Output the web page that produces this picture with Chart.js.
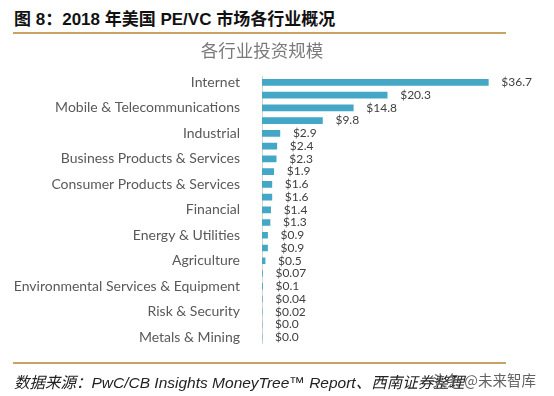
<!DOCTYPE html>
<html><head><meta charset="utf-8">
<script src="https://cdn.jsdelivr.net/npm/chart.js@4/dist/chart.umd.min.js"></script>
<style>
html,body{margin:0;padding:0;background:#fff;width:554px;height:396px;overflow:hidden;font-family:"Noto Sans CJK SC",sans-serif;}
#title{position:absolute;left:14px;top:5px;font-size:17px;font-weight:bold;color:#111;font-family:"Liberation Sans","Noto Sans CJK SC",sans-serif;}
.rule{position:absolute;left:13px;width:493px;height:2px;background:#c9a266;}
#src{position:absolute;left:14px;top:370px;font-size:15.5px;font-style:italic;color:#222;font-family:"Liberation Sans","Noto Sans CJK SC",sans-serif;white-space:nowrap;}
#wm{position:absolute;left:432px;top:369px;font-size:14.5px;color:rgba(70,70,70,0.85);font-family:"Noto Sans CJK SC",sans-serif;white-space:nowrap;}
#wrap{position:absolute;left:0;top:36px;width:545px;height:330px;}
</style></head><body>
<div id="title">图 8：2018 年美国 PE/VC 市场各行业概况</div>
<div class="rule" style="top:32px"></div>
<div id="wrap"><canvas id="c"></canvas></div>
<div class="rule" style="top:362px"></div>
<div id="src">数据来源：PwC/CB Insights MoneyTree™ Report、西南证券整理</div>
<div id="wm">头条 @未来智库</div>
<script>
const categories = ["Internet","","Mobile & Telecommunications","","Industrial","","Business Products & Services","","Consumer Products & Services","","Financial","","Energy & Utilities","","Agriculture","","Environmental Services & Equipment","","Risk & Security","","Metals & Mining"];
const values = [36.7,20.3,14.8,9.8,2.9,2.4,2.3,1.9,1.6,1.6,1.4,1.3,0.9,0.9,0.5,0.07,0.1,0.04,0.02,0.0,0.0];
const valueLabels = ["$36.7","$20.3","$14.8","$9.8","$2.9","$2.4","$2.3","$1.9","$1.6","$1.6","$1.4","$1.3","$0.9","$0.9","$0.5","$0.07","$0.1","$0.04","$0.02","$0.0","$0.0"];
const chartTitle = "各行业投资规模";

const labelPlugin = {
  id:'valLabels',
  afterDatasetsDraw(chart){
    const ctx = chart.ctx;
    const meta = chart.getDatasetMeta(0);
    ctx.save();
    ctx.font = '12px Lato, "Open Sans", sans-serif';
    ctx.fillStyle = '#404040';
    ctx.textAlign = 'left';
    ctx.textBaseline = 'middle';
    meta.data.forEach((el,i)=>{
      ctx.fillText(valueLabels[i], el.x + 13, el.y);
    });
    ctx.restore();
  }
};

new Chart(document.getElementById('c'),{
  type:'bar',
  data:{labels:categories,datasets:[{data:values,backgroundColor:'#44a7c6',barThickness:6}]},
  options:{
    indexAxis:'y',
    responsive:true,maintainAspectRatio:false,animation:false,
    layout:{padding:{left:3,right:24,top:0,bottom:3}},
    plugins:{
      legend:{display:false},tooltip:{enabled:false},
      title:{display:true,text:chartTitle,color:'#7a7a7a',font:{size:17.5,family:'"Noto Sans CJK SC"',weight:'normal'},padding:{top:4,bottom:15}}
    },
    scales:{
      x:{display:false,min:0,max:42},
      y:{
        grid:{display:false},
        border:{display:true,color:'#d4d4d4',width:1},
        ticks:{autoSkip:false,color:'#595959',padding:14,font:{size:14,family:'Lato, "Open Sans", sans-serif'}}
      }
    }
  },
  plugins:[labelPlugin]
});
</script>
</body></html>
